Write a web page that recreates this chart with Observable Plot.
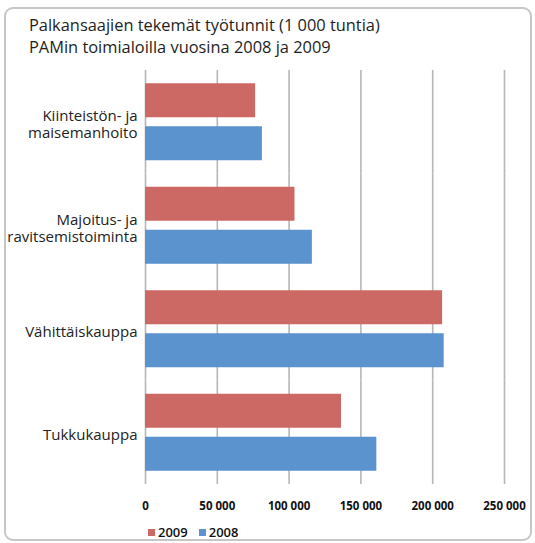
<!DOCTYPE html>
<html>
<head>
<meta charset="utf-8">
<script src="https://cdn.jsdelivr.net/npm/d3@7"></script>
<script src="https://cdn.jsdelivr.net/npm/@observablehq/plot@0.6"></script>
<style>
  html, body { margin: 0; padding: 0; background: #fff; }
  #wrap { position: relative; width: 535px; height: 543px; overflow: hidden; font-family: "Open Sans", sans-serif; color: #222; }
  #frame { position: absolute; left: 4px; top: 7px; width: 524px; height: 530px; border: 2px solid #c6c6c6; border-radius: 9px; }
  #title { position: absolute; left: 29px; top: 14px; font-size: 16.4px; line-height: 22px; color: #1e1e1e; white-space: nowrap; }
  #chart { position: absolute; left: 0; top: 60px; }
  #legend { position: absolute; left: 148px; top: 523px; font-size: 13px; font-weight: 600; display: flex; align-items: center; color: #111; }
  #legend .item { display: flex; align-items: center; margin-right: 11px; }
  #legend .sw { width: 7px; height: 7px; margin-right: 3px; display: inline-block; }
</style>
</head>
<body>
<div id="wrap">
  <div id="frame"></div>
  <div id="title">Palkansaajien tekemät työtunnit (1 000 tuntia)<br>PAMin toimialoilla vuosina 2008 ja 2009</div>
  <div id="chart"></div>
  <div id="legend"></div>
</div>
<script>
const categories = ["Kiinteistön- ja\nmaisemanhoito", "Majoitus- ja\nravitsemistoiminta", "Vähittäiskauppa", "Tukkukauppa"];
const years = ["2009", "2008"];
const values2009 = [76700, 104100, 206900, 136500];
const values2008 = [81400, 116200, 208000, 161100];
const xTicks = [0, 50000, 100000, 150000, 200000, 250000];
const colors = ["#cd6964", "#5a93ce"];

const rows = [];
categories.forEach((c, i) => {
  rows.push({cat: c, year: "2009", value: values2009[i]});
  rows.push({cat: c, year: "2008", value: values2008[i]});
});

const fmt = d => d3.format(",")(d).replace(/,/g, " ");

const plot = Plot.plot({
  width: 535,
  height: 460,
  marginTop: 10,
  marginBottom: 36,
  marginLeft: 145,
  marginRight: 31,
  style: {fontFamily: "Open Sans", fontSize: "11.5px", fontWeight: "bold", color: "#111", background: "transparent"},
  facet: {data: rows, y: "cat"},
  fy: {domain: categories, padding: 0, axis: null, round: false},
  y: {domain: years, paddingInner: 0.2093, paddingOuter: 0.308, axis: null, round: false},
  x: {domain: [0, 250000], ticks: xTicks, tickFormat: fmt, tickSize: 0, tickPadding: 17, label: null},
  color: {domain: years, range: colors},
  marks: [
    Plot.ruleX(xTicks, {stroke: "#b6b6ba", strokeWidth: 1.6}),
    Plot.barX(rows, {x: "value", y: "year", fill: "year"}),
    Plot.text(rows, {
      filter: d => d.year === "2009",
      text: "cat",
      frameAnchor: "left",
      textAnchor: "end",
      dx: -8,
      dy: 2,
      lineHeight: 1.12,
      fontSize: 15,
      fontWeight: "normal",
      fill: "#222"
    })
  ]
});
document.getElementById("chart").appendChild(plot);

const color = plot.scale("color");
const legend = document.getElementById("legend");
color.domain.forEach((d, i) => {
  const item = document.createElement("span");
  item.className = "item";
  const sw = document.createElement("span");
  sw.className = "sw";
  sw.style.background = color.range[i];
  item.appendChild(sw);
  item.appendChild(document.createTextNode(d));
  legend.appendChild(item);
});
</script>
</body>
</html>
